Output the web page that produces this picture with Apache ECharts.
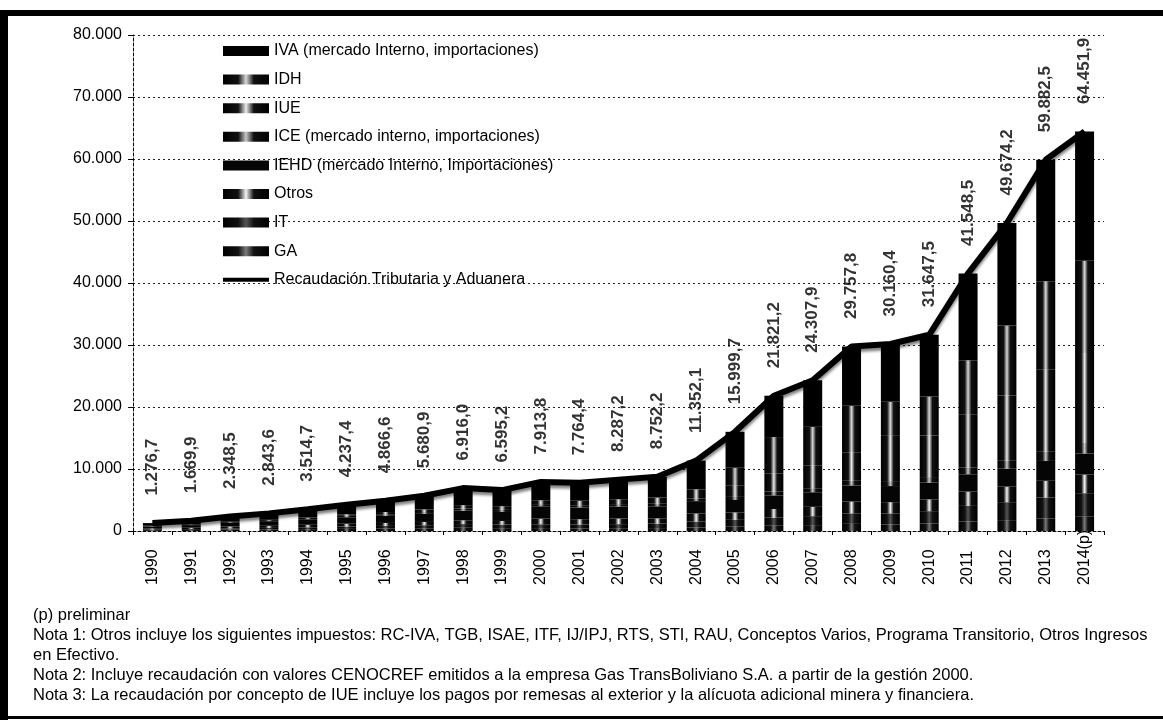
<!DOCTYPE html>
<html>
<head>
<meta charset="utf-8">
<script src="https://cdn.jsdelivr.net/npm/echarts@6/dist/echarts.min.js"></script>
<style>
html, body { margin: 0; padding: 0; background: #fff; }
#chart { width: 1163px; height: 723px; }
</style>
</head>
<body>
<div id="chart"></div>
<script>
// years (x axis)
var years = ['1990', '1991', '1992', '1993', '1994', '1995', '1996', '1997', '1998', '1999',
    '2000', '2001', '2002', '2003', '2004', '2005', '2006', '2007', '2008', '2009',
    '2010', '2011', '2012', '2013', '2014(p)'];

// components, millions of Bs (read off the stacks, approx.)
var ga = [140, 180, 230, 260, 300, 340, 380, 440, 520, 460, 470, 430, 450, 470, 560, 700, 850, 950, 1150, 1050, 1200, 1550, 1750, 2000, 2300];
var it = [110, 140, 200, 240, 300, 380, 440, 500, 600, 580, 620, 620, 660, 720, 960, 1100, 1300, 1450, 1700, 1800, 2000, 2500, 2900, 3400, 3800];
var otros = [180, 220, 300, 340, 400, 450, 480, 520, 600, 580, 900, 850, 900, 850, 1300, 1200, 1400, 1500, 1900, 1800, 1900, 2300, 2500, 2700, 3000];
var iehd = [300, 400, 600, 750, 900, 1050, 1150, 1300, 1550, 1450, 2000, 1900, 1950, 1950, 2000, 2000, 2200, 2350, 2600, 2600, 2700, 2800, 2900, 3200, 3400];
var ice = [90, 110, 150, 170, 200, 230, 260, 300, 340, 330, 350, 360, 380, 400, 450, 500, 600, 650, 750, 800, 900, 1100, 1300, 1500, 1700];
var iue = [20, 30, 40, 50, 60, 250, 350, 420, 560, 600, 620, 720, 780, 1000, 1450, 1800, 2900, 3700, 4600, 7300, 6700, 8500, 10500, 13200, 14500];
var idh = [0, 0, 0, 0, 0, 0, 0, 0, 0, 0, 0, 0, 0, 0, 0, 2900, 5900, 6200, 7500, 5500, 6300, 8800, 11300, 14300, 14900];
var iva = [436.7, 589.9, 828.5, 1033.6, 1354.7, 1537.4, 1806.6, 2200.9, 2746.0, 2595.2, 2953.8, 2884.4, 3167.2, 3362.2, 4632.1,
    5799.7, 6671.2, 7507.9, 9557.8, 9310.4, 9947.5, 13998.5, 16524.2, 19582.5, 20851.9];

// total collected (line + labels)
var total = [1276.7, 1669.9, 2348.5, 2843.6, 3514.7, 4237.4, 4866.6, 5680.9, 6916.0, 6595.2,
    7913.8, 7764.4, 8287.2, 8752.2, 11352.1, 15999.7, 21821.2, 24307.9, 29757.8, 30160.4,
    31647.5, 41548.5, 49674.2, 59882.5, 64451.9];

var notes = [
    '(p) preliminar',
    'Nota 1: Otros incluye los siguientes impuestos: RC-IVA, TGB, ISAE, ITF, IJ/IPJ, RTS, STI, RAU, Conceptos Varios, Programa Transitorio, Otros Ingresos',
    'en Efectivo.',
    'Nota 2: Incluye recaudación con valores CENOCREF emitidos a la empresa Gas TransBoliviano S.A. a partir de la gestión 2000.',
    'Nota 3: La recaudación por concepto de IUE incluye los pagos por remesas al exterior y la alícuota adicional minera y financiera.'
];

var chart = echarts.init(document.getElementById('chart'));

function thousands(s) {
    return s.replace(/\B(?=(\d{3})+(?!\d))/g, '.');
}
function fmt(v) {
    var p = v.toFixed(1).split('.');
    return thousands(p[0]) + ',' + p[1];
}

// dark edges, lighter middle (excel style gradient)
function grad(mid) {
    return new echarts.graphic.LinearGradient(0, 0, 1, 0, [
        { offset: 0, color: '#000' },
        { offset: 0.33, color: '#111' },
        { offset: 0.5, color: mid },
        { offset: 0.67, color: '#111' },
        { offset: 1, color: '#000' }
    ]);
}

var font = 'Liberation Sans, Arial, sans-serif';
var lineName = 'Recaudación Tributaria y Aduanera';

function barSeries(name, data, color) {
    return {
        name: name,
        type: 'bar',
        stack: 'total',
        barWidth: 19,
        itemStyle: { color: color },
        data: data
    };
}

var graphics = [
    { type: 'rect', shape: { x: 0, y: 10, width: 1163, height: 6 }, style: { fill: '#000' } },
    { type: 'rect', shape: { x: 0, y: 10, width: 8, height: 710 }, style: { fill: '#000' } },
    { type: 'rect', shape: { x: 0, y: 716, width: 1163, height: 3 }, style: { fill: '#000' } }
];
var noteY = [615, 635, 655, 675, 695];
for (var n = 0; n < notes.length; n++) {
    graphics.push({
        type: 'text',
        style: {
            text: notes[n],
            x: 33,
            y: noteY[n],
            verticalAlign: 'middle',
            font: '16.5px ' + font,
            fill: '#000'
        }
    });
}

var option = {
    backgroundColor: '#fff',
    animation: false,
    grid: { left: 133, right: 59, top: 35, bottom: 192 },
    legend: {
        orient: 'vertical',
        left: 216,
        top: 37,
        itemWidth: 46,
        itemHeight: 10,
        itemGap: 10.6,
        textStyle: { color: '#000', fontFamily: font, fontSize: 16, lineHeight: 18 },
        data: [
            { name: 'IVA (mercado Interno, importaciones)', icon: 'rect' },
            { name: 'IDH', icon: 'rect' },
            { name: 'IUE', icon: 'rect' },
            { name: 'ICE (mercado interno, importaciones)', icon: 'rect' },
            { name: 'IEHD (mercado Interno, Importaciones)', icon: 'rect' },
            { name: 'Otros', icon: 'rect' },
            { name: 'IT', icon: 'rect' },
            { name: 'GA', icon: 'rect' },
            {
                name: lineName,
                itemStyle: { color: 'rgba(0,0,0,0)', borderWidth: 0 },
                lineStyle: { color: '#000', width: 4, shadowBlur: 0, shadowOffsetY: 0 }
            }
        ]
    },
    xAxis: {
        type: 'category',
        data: years,
        axisLine: { lineStyle: { color: '#000', type: [3, 2], width: 1 } },
        axisTick: { show: true, length: 4, lineStyle: { color: '#000' } },
        axisLabel: {
            rotate: 90,
            margin: 54,
            align: 'left',
            verticalAlign: 'middle',
            color: '#000',
            fontFamily: font,
            fontSize: 16
        }
    },
    yAxis: {
        type: 'value',
        min: 0,
        max: 80000,
        interval: 10000,
        axisLine: { show: true, lineStyle: { color: '#000', type: [3, 2], width: 1 } },
        axisTick: { show: true, length: 5, lineStyle: { color: '#000' } },
        axisLabel: {
            margin: 11,
            color: '#000',
            fontFamily: font,
            fontSize: 16,
            formatter: function (v) { return thousands(String(v)); }
        },
        splitLine: { lineStyle: { color: '#222', type: [2, 3], width: 1 } }
    },
    series: [
        barSeries('GA', ga, grad('#7a7a7a')),
        barSeries('IT', it, grad('#555')),
        barSeries('Otros', otros, grad('#f4f4f4')),
        barSeries('IEHD (mercado Interno, Importaciones)', iehd, '#050505'),
        barSeries('ICE (mercado interno, importaciones)', ice, grad('#c8c8c8')),
        barSeries('IUE', iue, grad('#ececec')),
        barSeries('IDH', idh, grad('#d8d8d8')),
        barSeries('IVA (mercado Interno, importaciones)', iva, '#000'),
        {
            name: lineName,
            type: 'line',
            symbol: 'none',
            z: 5,
            lineStyle: {
                color: '#000',
                width: 6,
                shadowColor: 'rgba(0,0,0,0.5)',
                shadowBlur: 3,
                shadowOffsetY: 3
            },
            itemStyle: { color: '#000' },
            data: total
        },
        {
            // value labels over the total line
            name: 'etiquetas',
            type: 'scatter',
            symbolSize: 1,
            z: 6,
            silent: true,
            itemStyle: { color: 'rgba(0,0,0,0)' },
            label: {
                show: true,
                position: 'top',
                distance: 27,
                rotate: 90,
                align: 'left',
                verticalAlign: 'middle',
                color: '#000',
                fontFamily: font,
                fontWeight: 'bold',
                fontSize: 17,
                formatter: function (p) { return fmt(p.value); }
            },
            labelLayout: { hideOverlap: false },
            data: total
        }
    ],
    graphic: graphics
};

chart.setOption(option);
</script>
</body>
</html>
